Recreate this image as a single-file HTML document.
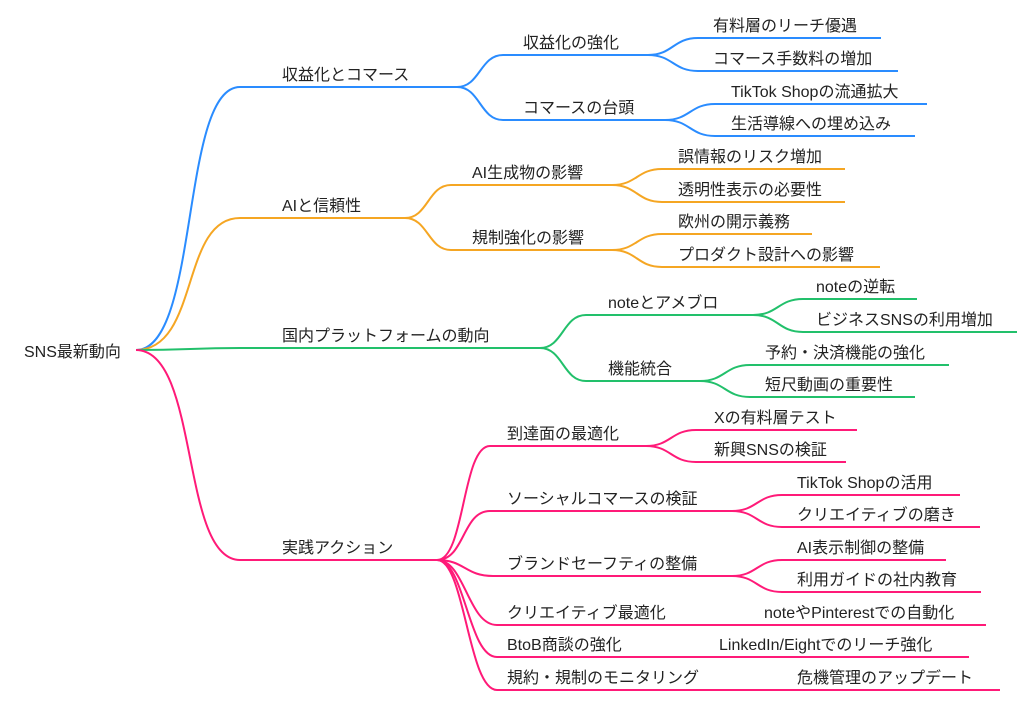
<!DOCTYPE html>
<html><head><meta charset="utf-8"><style>
html,body{margin:0;padding:0;background:#fff;}
svg{display:block;}
text{font-family:"Liberation Sans","Noto Sans CJK JP",sans-serif;font-size:16px;fill:#222;}
path{fill:none;stroke-width:2;}
.b{stroke:#2a8cff}.o{stroke:#f5a623}.g{stroke:#22c06b}.p{stroke:#ff1a78}
</style></head><body>
<svg width="1024" height="701" viewBox="0 0 1024 701" xmlns="http://www.w3.org/2000/svg">
<!-- root -->
<text x="24" y="357">SNS最新動向</text>
<!-- level1 curves -->
<path class="b" d="M136 350 C200 350 180 87 240 87 L457 87"/>
<path class="o" d="M136 350 C200 350 180 218 240 218 L405 218"/>
<path class="g" d="M136 350 C190 350 190 348 240 348 L540 348"/>
<path class="p" d="M136 350 C200 350 180 560 240 560 L437 560"/>
<text x="282" y="80">収益化とコマース</text>
<text x="282" y="211">AIと信頼性</text>
<text x="282" y="341">国内プラットフォームの動向</text>
<text x="282" y="553">実践アクション</text>

<!-- blue -->
<path class="b" d="M457 87 C480 87 480 55 503 55 L648 55"/>
<path class="b" d="M457 87 C480 87 480 120 503 120 L665 120"/>
<text x="523" y="48">収益化の強化</text>
<text x="523" y="113">コマースの台頭</text>
<path class="b" d="M648 55 C673 55 673 38 698 38 L881 38"/>
<path class="b" d="M648 55 C673 55 673 71 698 71 L898 71"/>
<path class="b" d="M665 120 C690 120 690 104 715 104 L927 104"/>
<path class="b" d="M665 120 C690 120 690 136 715 136 L915 136"/>
<text x="713" y="31">有料層のリーチ優遇</text>
<text x="713" y="64">コマース手数料の増加</text>
<text x="731" y="97">TikTok Shopの流通拡大</text>
<text x="731" y="129">生活導線への埋め込み</text>

<!-- orange -->
<path class="o" d="M405 218 C428 218 428 185 451 185 L612 185"/>
<path class="o" d="M405 218 C428 218 428 250 451 250 L612 250"/>
<text x="472" y="178">AI生成物の影響</text>
<text x="472" y="243">規制強化の影響</text>
<path class="o" d="M612 185 C637 185 637 169 662 169 L845 169"/>
<path class="o" d="M612 185 C637 185 637 202 662 202 L845 202"/>
<path class="o" d="M612 250 C637 250 637 234 662 234 L812 234"/>
<path class="o" d="M612 250 C637 250 637 267 662 267 L880 267"/>
<text x="678" y="162">誤情報のリスク増加</text>
<text x="678" y="195">透明性表示の必要性</text>
<text x="678" y="227">欧州の開示義務</text>
<text x="678" y="260">プロダクト設計への影響</text>

<!-- green -->
<path class="g" d="M540 348 C563 348 563 315 586 315 L753 315"/>
<path class="g" d="M540 348 C563 348 563 381 586 381 L700 381"/>
<text x="608" y="308">noteとアメブロ</text>
<text x="608" y="374">機能統合</text>
<path class="g" d="M753 315 C778 315 778 299 803 299 L917 299"/>
<path class="g" d="M753 315 C778 315 778 332 803 332 L1017 332"/>
<path class="g" d="M700 381 C725 381 725 365 750 365 L949 365"/>
<path class="g" d="M700 381 C725 381 725 397 750 397 L915 397"/>
<text x="816" y="292">noteの逆転</text>
<text x="816" y="325">ビジネスSNSの利用増加</text>
<text x="765" y="358">予約・決済機能の強化</text>
<text x="765" y="390">短尺動画の重要性</text>

<!-- pink -->
<path class="p" d="M437 560 C465 560 462 446 490 446 L646 446"/>
<path class="p" d="M437 560 C465 560 462 511 490 511 L732 511"/>
<path class="p" d="M437 560 C465 560 465 576 493 576 L732 576"/>
<path class="p" d="M437 560 C465 560 468 625 497 625 L986 625"/>
<path class="p" d="M437 560 C465 560 468 657 497 657 L969 657"/>
<path class="p" d="M437 560 C465 560 468 690 497 690 L1000 690"/>
<text x="507" y="439">到達面の最適化</text>
<text x="507" y="504">ソーシャルコマースの検証</text>
<text x="507" y="569">ブランドセーフティの整備</text>
<text x="507" y="618">クリエイティブ最適化</text>
<text x="507" y="650">BtoB商談の強化</text>
<text x="507" y="683">規約・規制のモニタリング</text>
<path class="p" d="M646 446 C671 446 671 430 696 430 L857 430"/>
<path class="p" d="M646 446 C671 446 671 462 696 462 L846 462"/>
<path class="p" d="M732 511 C757 511 757 495 782 495 L960 495"/>
<path class="p" d="M732 511 C757 511 757 527 782 527 L980 527"/>
<path class="p" d="M732 576 C757 576 757 560 782 560 L946 560"/>
<path class="p" d="M732 576 C757 576 757 592 782 592 L981 592"/>
<text x="714" y="423">Xの有料層テスト</text>
<text x="714" y="455">新興SNSの検証</text>
<text x="797" y="488">TikTok Shopの活用</text>
<text x="797" y="520">クリエイティブの磨き</text>
<text x="797" y="553">AI表示制御の整備</text>
<text x="797" y="585">利用ガイドの社内教育</text>
<text x="764" y="618">noteやPinterestでの自動化</text>
<text x="719" y="650">LinkedIn/Eightでのリーチ強化</text>
<text x="797" y="683">危機管理のアップデート</text>
</svg>
</body></html>
